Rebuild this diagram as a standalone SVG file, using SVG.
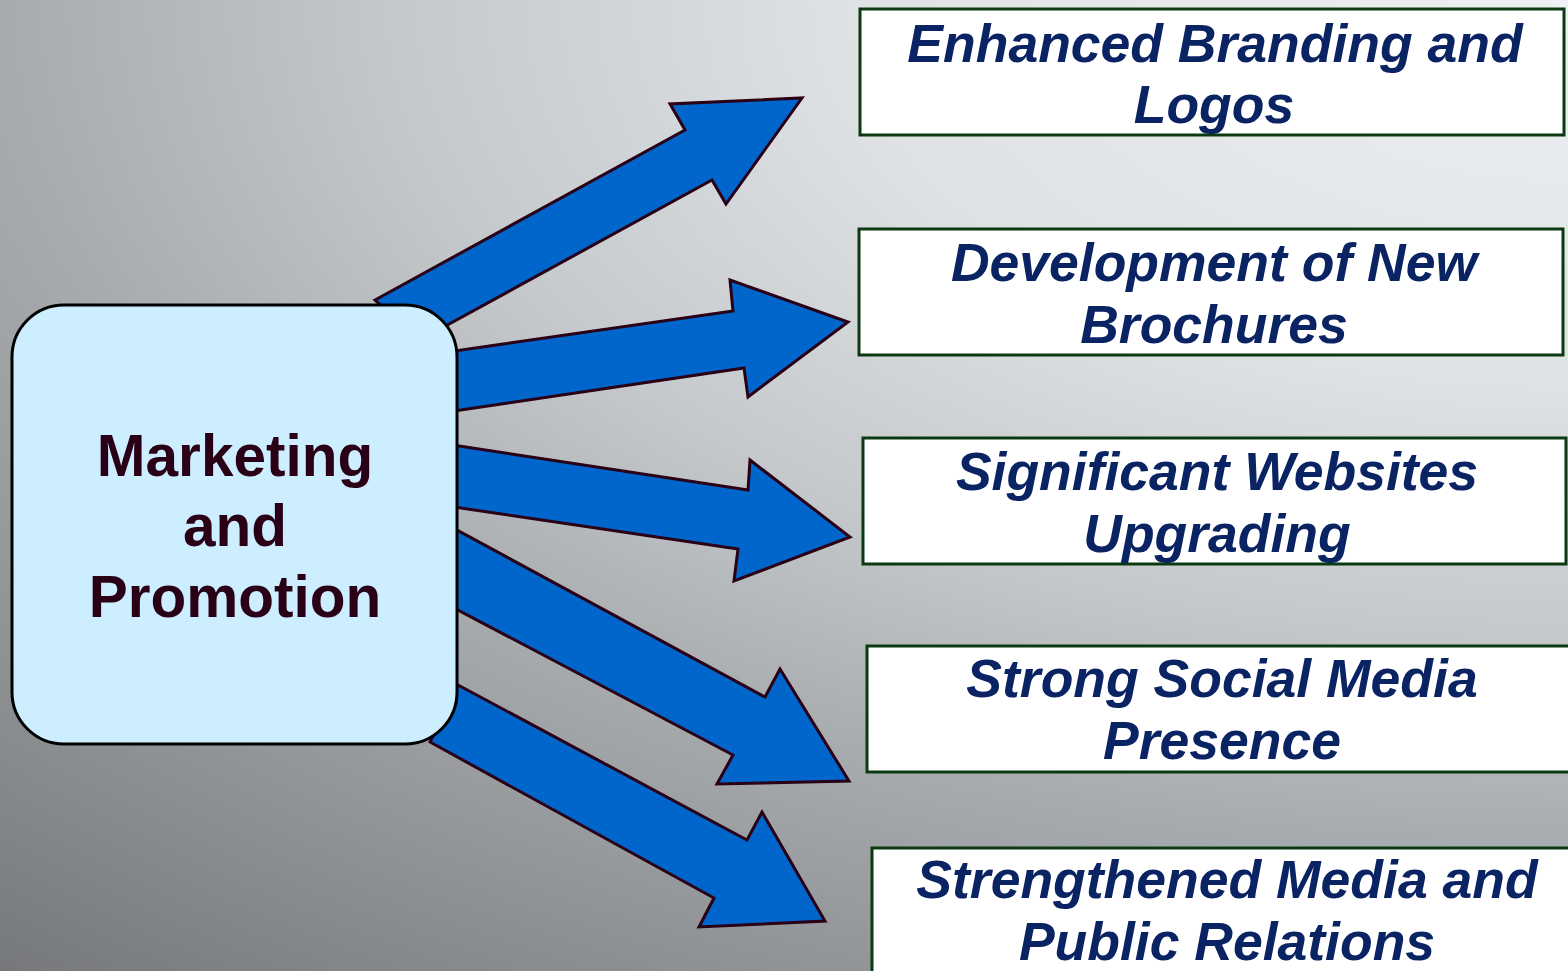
<svg xmlns="http://www.w3.org/2000/svg" width="1568" height="971" viewBox="0 0 1568 971">
<defs>
<radialGradient id="bg" gradientUnits="userSpaceOnUse" cx="1568" cy="0" r="2400" fx="1568" fy="0" gradientTransform="translate(1568,0) scale(1,0.54) translate(-1568,0)">
<stop offset="0" stop-color="#eef1f3"/>
<stop offset="0.3" stop-color="#dfe2e4"/>
<stop offset="0.487" stop-color="#c6c9cc"/>
<stop offset="0.653" stop-color="#a8abad"/>
<stop offset="1" stop-color="#75777a"/>
</radialGradient>
<style>
.arrow{fill:#0066cc;stroke:#2a0016;stroke-width:3;stroke-linejoin:miter}
.box{fill:#ffffff;stroke:#0b3a10;stroke-width:3}
.lbl{font-family:"Liberation Sans",Arial,sans-serif;font-weight:bold;font-style:italic;font-size:53.5px;fill:#0a2363;text-anchor:middle}
.center{font-family:"Liberation Sans",Arial,sans-serif;font-weight:bold;font-size:58.5px;fill:#2a0016;text-anchor:middle}
</style>
</defs>
<rect x="0" y="0" width="1568" height="971" fill="url(#bg)"/>
<g id="connectors">
<polygon class="arrow" points="375,300 685,130 670,104 802,98 726,204 712,180 420,340"/>
<polygon class="arrow" points="420,356 733,311 730,280 848,322 748,397 744,368 420,416"/>
<polygon class="arrow" points="420,440 748,490 750,460 850,537 734,581 738,549 420,502"/>
<polygon class="arrow" points="420,510 765,697 780,669 849,781 717,784 733,755 420,590"/>
<polygon class="arrow" points="458,685 747,840 762,812 825,921 699,927 714,898 430,742"/>
</g>
<g id="center-node">
<rect x="12" y="305" width="445" height="439" rx="52" ry="52" fill="#cdeeff" stroke="#000000" stroke-width="3"/>
<text class="center" x="235" y="476">Marketing</text>
<text class="center" x="235" y="546">and</text>
<text class="center" x="235" y="617">Promotion</text>
</g>
<g id="node-branding">
<rect class="box" x="860" y="9" width="704" height="126"/>
<text class="lbl" x="1215" y="62">Enhanced Branding and</text>
<text class="lbl" x="1214" y="123">Logos</text>
</g>
<g id="node-brochures">
<rect class="box" x="859" y="229" width="704" height="126"/>
<text class="lbl" x="1214" y="281">Development of New</text>
<text class="lbl" x="1214" y="343">Brochures</text>
</g>
<g id="node-websites">
<rect class="box" x="863" y="438" width="703" height="126"/>
<text class="lbl" x="1217" y="490">Significant Websites</text>
<text class="lbl" x="1217" y="552">Upgrading</text>
</g>
<g id="node-social">
<rect class="box" x="867" y="646" width="704" height="126"/>
<text class="lbl" x="1222" y="697">Strong Social Media</text>
<text class="lbl" x="1222" y="759">Presence</text>
</g>
<g id="node-media">
<rect class="box" x="872" y="848" width="704" height="130"/>
<text class="lbl" x="1227" y="898">Strengthened Media and</text>
<text class="lbl" x="1227" y="960">Public Relations</text>
</g>
</svg>
